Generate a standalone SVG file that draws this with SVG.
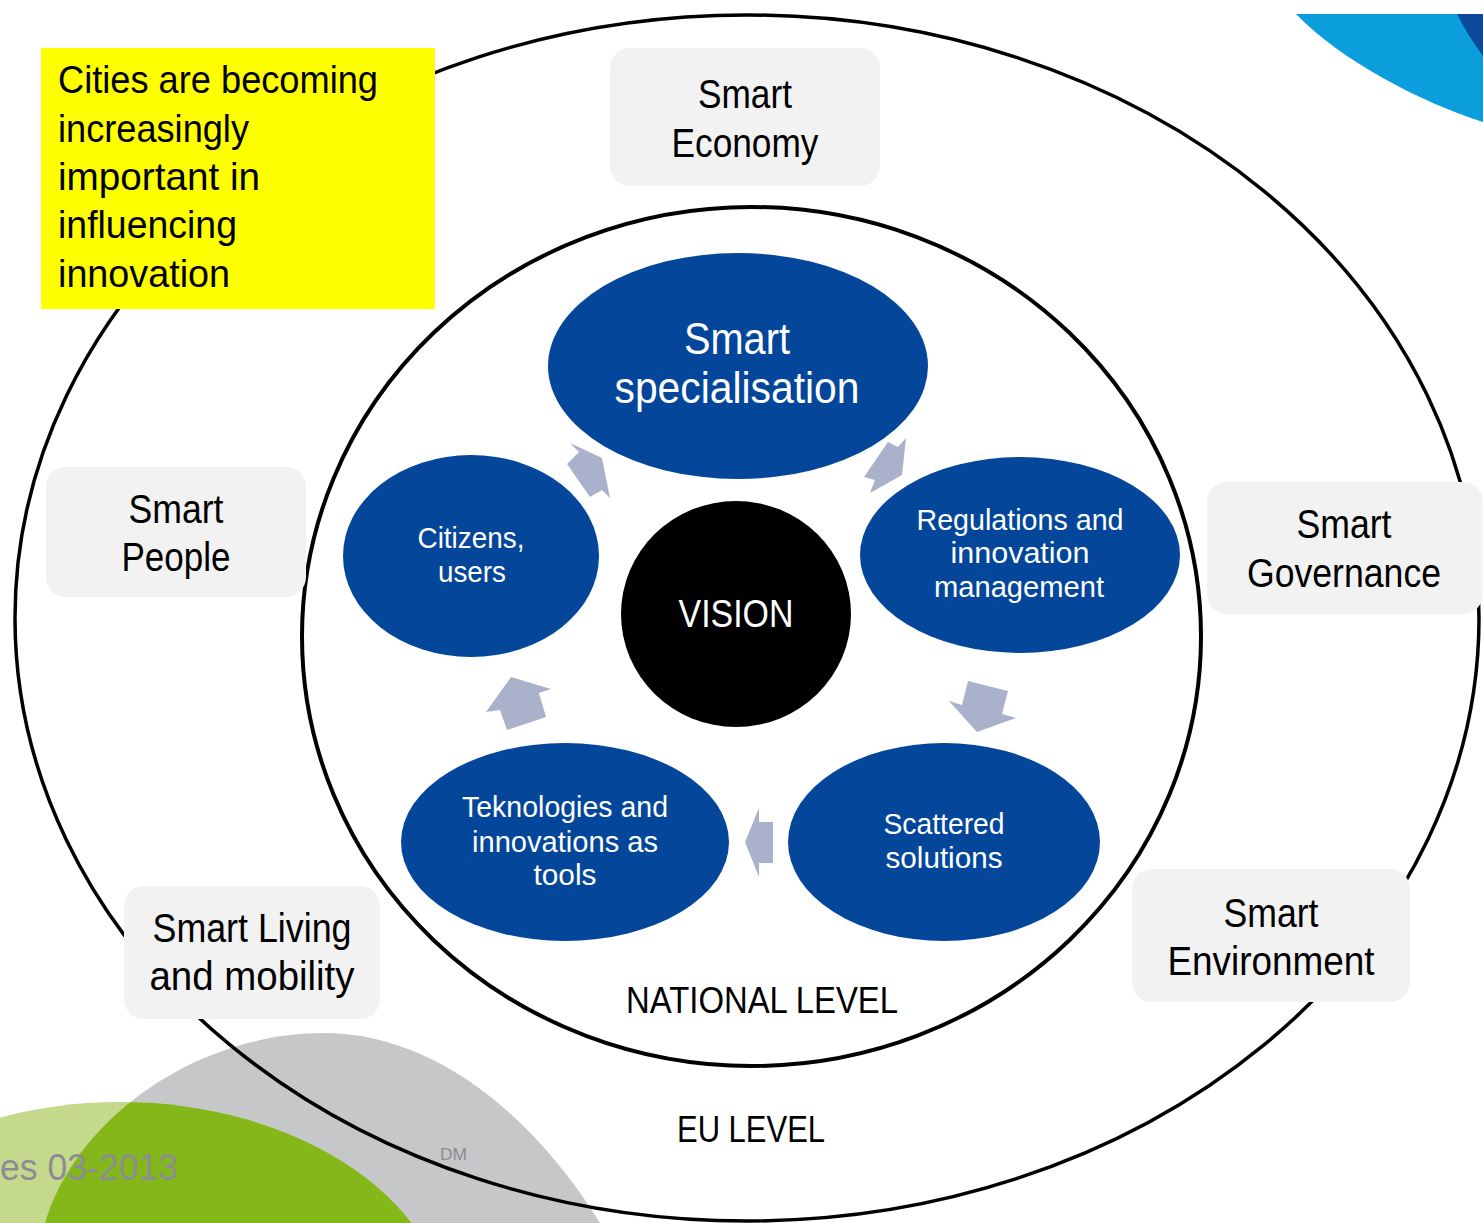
<svg xmlns="http://www.w3.org/2000/svg" width="1483" height="1223" viewBox="0 0 1483 1223">
<defs>
<style>
.lbl{font-family:"Liberation Sans",Arial,sans-serif;fill:#000;}
.wt{font-family:"Liberation Sans",Arial,sans-serif;fill:#fff;}
.box{fill:#f2f2f2;}
.blue{fill:#03469a;}
.arr{fill:#aab1cb;}
.ring{fill:none;stroke:#000;}
</style>
<clipPath id="grayclip"><path d="M 45 1223 C 75 1120 195 1033 324 1033 C 430 1033 530 1110 600 1223 Z"/></clipPath>
</defs>
<rect x="0" y="0" width="1483" height="1223" fill="#fff"/>
<g id="decor-top-right">
<path d="M 1296 14 L 1483 14 L 1483 122 C 1420 102 1340 60 1296 14 Z" fill="#0a9fdc"/>
<path d="M 1457 14 L 1483 14 L 1483 56 Q 1468 36 1457 14 Z" fill="#0b4a9a"/>
</g>
<g id="decor-bottom-left">
<path d="M 45 1223 C 75 1120 195 1033 324 1033 C 430 1033 530 1110 600 1223 Z" fill="#c6c7c9"/>
<ellipse cx="120" cy="1330" rx="330" ry="228" fill="#c4d98b"/>
<ellipse cx="120" cy="1330" rx="330" ry="228" fill="#84b81a" clip-path="url(#grayclip)"/>
<text x="0" y="1180" font-family="Liberation Sans, Arial, sans-serif" font-size="37" fill="#8c8c94" textLength="178" lengthAdjust="spacingAndGlyphs">es 03-2013</text>
<text x="440" y="1160" font-family="Liberation Sans, Arial, sans-serif" font-size="16" fill="#8c8c94" textLength="27" lengthAdjust="spacingAndGlyphs">DM</text>
</g>
<g id="eu-level">
<ellipse class="ring" cx="747" cy="618" rx="732" ry="603" stroke-width="3.5"/>
<text class="lbl" x="751" y="1142" font-size="36" text-anchor="middle" textLength="148" lengthAdjust="spacingAndGlyphs">EU LEVEL</text>
</g>
<g id="national-level">
<ellipse class="ring" cx="751.5" cy="636.5" rx="449.5" ry="429.5" stroke-width="4"/>
<text class="lbl" x="762" y="1013" font-size="36" text-anchor="middle" textLength="272" lengthAdjust="spacingAndGlyphs">NATIONAL LEVEL</text>
</g>
<g id="note">
<rect x="41" y="48" width="394" height="261" fill="#ffff00"/>
<text class="lbl" x="58" y="93" font-size="39" textLength="320" lengthAdjust="spacingAndGlyphs">Cities are becoming</text>
<text class="lbl" x="58" y="142" font-size="39" textLength="191" lengthAdjust="spacingAndGlyphs">increasingly</text>
<text class="lbl" x="58" y="190" font-size="39" textLength="202" lengthAdjust="spacingAndGlyphs">important in</text>
<text class="lbl" x="58" y="238" font-size="39" textLength="179" lengthAdjust="spacingAndGlyphs">influencing</text>
<text class="lbl" x="58" y="287" font-size="39" textLength="172" lengthAdjust="spacingAndGlyphs">innovation</text>
</g>
<g id="smart-economy">
<rect class="box" x="610" y="48" width="270" height="138" rx="20"/>
<text class="lbl" x="745" y="108" font-size="40" text-anchor="middle" textLength="94" lengthAdjust="spacingAndGlyphs">Smart</text>
<text class="lbl" x="745" y="157" font-size="40" text-anchor="middle" textLength="147" lengthAdjust="spacingAndGlyphs">Economy</text>
</g>
<g id="smart-people">
<rect class="box" x="46" y="467" width="260" height="130" rx="20"/>
<text class="lbl" x="176" y="523" font-size="40" text-anchor="middle" textLength="95" lengthAdjust="spacingAndGlyphs">Smart</text>
<text class="lbl" x="176" y="571" font-size="40" text-anchor="middle" textLength="109" lengthAdjust="spacingAndGlyphs">People</text>
</g>
<g id="smart-governance">
<rect class="box" x="1207" y="482" width="276" height="132" rx="20"/>
<text class="lbl" x="1344" y="538" font-size="40" text-anchor="middle" textLength="95" lengthAdjust="spacingAndGlyphs">Smart</text>
<text class="lbl" x="1344" y="587" font-size="40" text-anchor="middle" textLength="194" lengthAdjust="spacingAndGlyphs">Governance</text>
</g>
<g id="smart-environment">
<rect class="box" x="1132" y="869" width="278" height="133" rx="20"/>
<text class="lbl" x="1271" y="927" font-size="40" text-anchor="middle" textLength="95" lengthAdjust="spacingAndGlyphs">Smart</text>
<text class="lbl" x="1271" y="975" font-size="40" text-anchor="middle" textLength="207" lengthAdjust="spacingAndGlyphs">Environment</text>
</g>
<g id="smart-living">
<rect class="box" x="124" y="886" width="256" height="133" rx="20"/>
<text class="lbl" x="252" y="942" font-size="40" text-anchor="middle" textLength="199" lengthAdjust="spacingAndGlyphs">Smart Living</text>
<text class="lbl" x="252" y="990" font-size="40" text-anchor="middle" textLength="205" lengthAdjust="spacingAndGlyphs">and mobility</text>
</g>
<g id="smart-specialisation">
<ellipse class="blue" cx="738" cy="366" rx="190" ry="113"/>
<text class="wt" x="737" y="354" font-size="44" text-anchor="middle" textLength="106" lengthAdjust="spacingAndGlyphs">Smart</text>
<text class="wt" x="737" y="403" font-size="44" text-anchor="middle" textLength="245" lengthAdjust="spacingAndGlyphs">specialisation</text>
</g>
<g id="regulations">
<ellipse class="blue" cx="1020" cy="555" rx="160" ry="98"/>
<text class="wt" x="1020" y="530" font-size="30" text-anchor="middle" textLength="207" lengthAdjust="spacingAndGlyphs">Regulations and</text>
<text class="wt" x="1020" y="563" font-size="30" text-anchor="middle" textLength="139" lengthAdjust="spacingAndGlyphs">innovation</text>
<text class="wt" x="1019" y="597" font-size="30" text-anchor="middle" textLength="170" lengthAdjust="spacingAndGlyphs">management</text>
</g>
<g id="scattered-solutions">
<ellipse class="blue" cx="944" cy="842" rx="156" ry="99"/>
<text class="wt" x="944" y="834" font-size="30" text-anchor="middle" textLength="121" lengthAdjust="spacingAndGlyphs">Scattered</text>
<text class="wt" x="944" y="868" font-size="30" text-anchor="middle" textLength="117" lengthAdjust="spacingAndGlyphs">solutions</text>
</g>
<g id="teknologies">
<ellipse class="blue" cx="565" cy="842" rx="164" ry="99"/>
<text class="wt" x="565" y="817" font-size="30" text-anchor="middle" textLength="206" lengthAdjust="spacingAndGlyphs">Teknologies and</text>
<text class="wt" x="565" y="852" font-size="30" text-anchor="middle" textLength="186" lengthAdjust="spacingAndGlyphs">innovations as</text>
<text class="wt" x="565" y="885" font-size="30" text-anchor="middle" textLength="63" lengthAdjust="spacingAndGlyphs">tools</text>
</g>
<g id="citizens">
<ellipse class="blue" cx="471" cy="556" rx="128" ry="101"/>
<text class="wt" x="471" y="548" font-size="30" text-anchor="middle" textLength="107" lengthAdjust="spacingAndGlyphs">Citizens,</text>
<text class="wt" x="472" y="582" font-size="30" text-anchor="middle" textLength="68" lengthAdjust="spacingAndGlyphs">users</text>
</g>
<g id="vision">
<ellipse cx="736" cy="614" rx="115" ry="113" fill="#000"/>
<text class="wt" x="736" y="627" font-size="38" text-anchor="middle" textLength="115" lengthAdjust="spacingAndGlyphs">VISION</text>
</g>
<g id="connectors">
<polygon class="arr" points="602,458 570,443 579,452 567,464 590,497 602,490 610,498"/>
<polygon class="arr" points="902,475 906,438 898,447 888,442 864,477 875,480 870,493"/>
<polygon class="arr" points="977,732 1016,718 1002,714 1008,691 968,681 962,705 949,701"/>
<polygon class="arr" points="745,842 759,808 759,822 773,822 773,863 759,863 759,877"/>
<polygon class="arr" points="511,677 551,689 539,693 546,717 507,730 500,710 486,712"/>
</g>
</svg>
